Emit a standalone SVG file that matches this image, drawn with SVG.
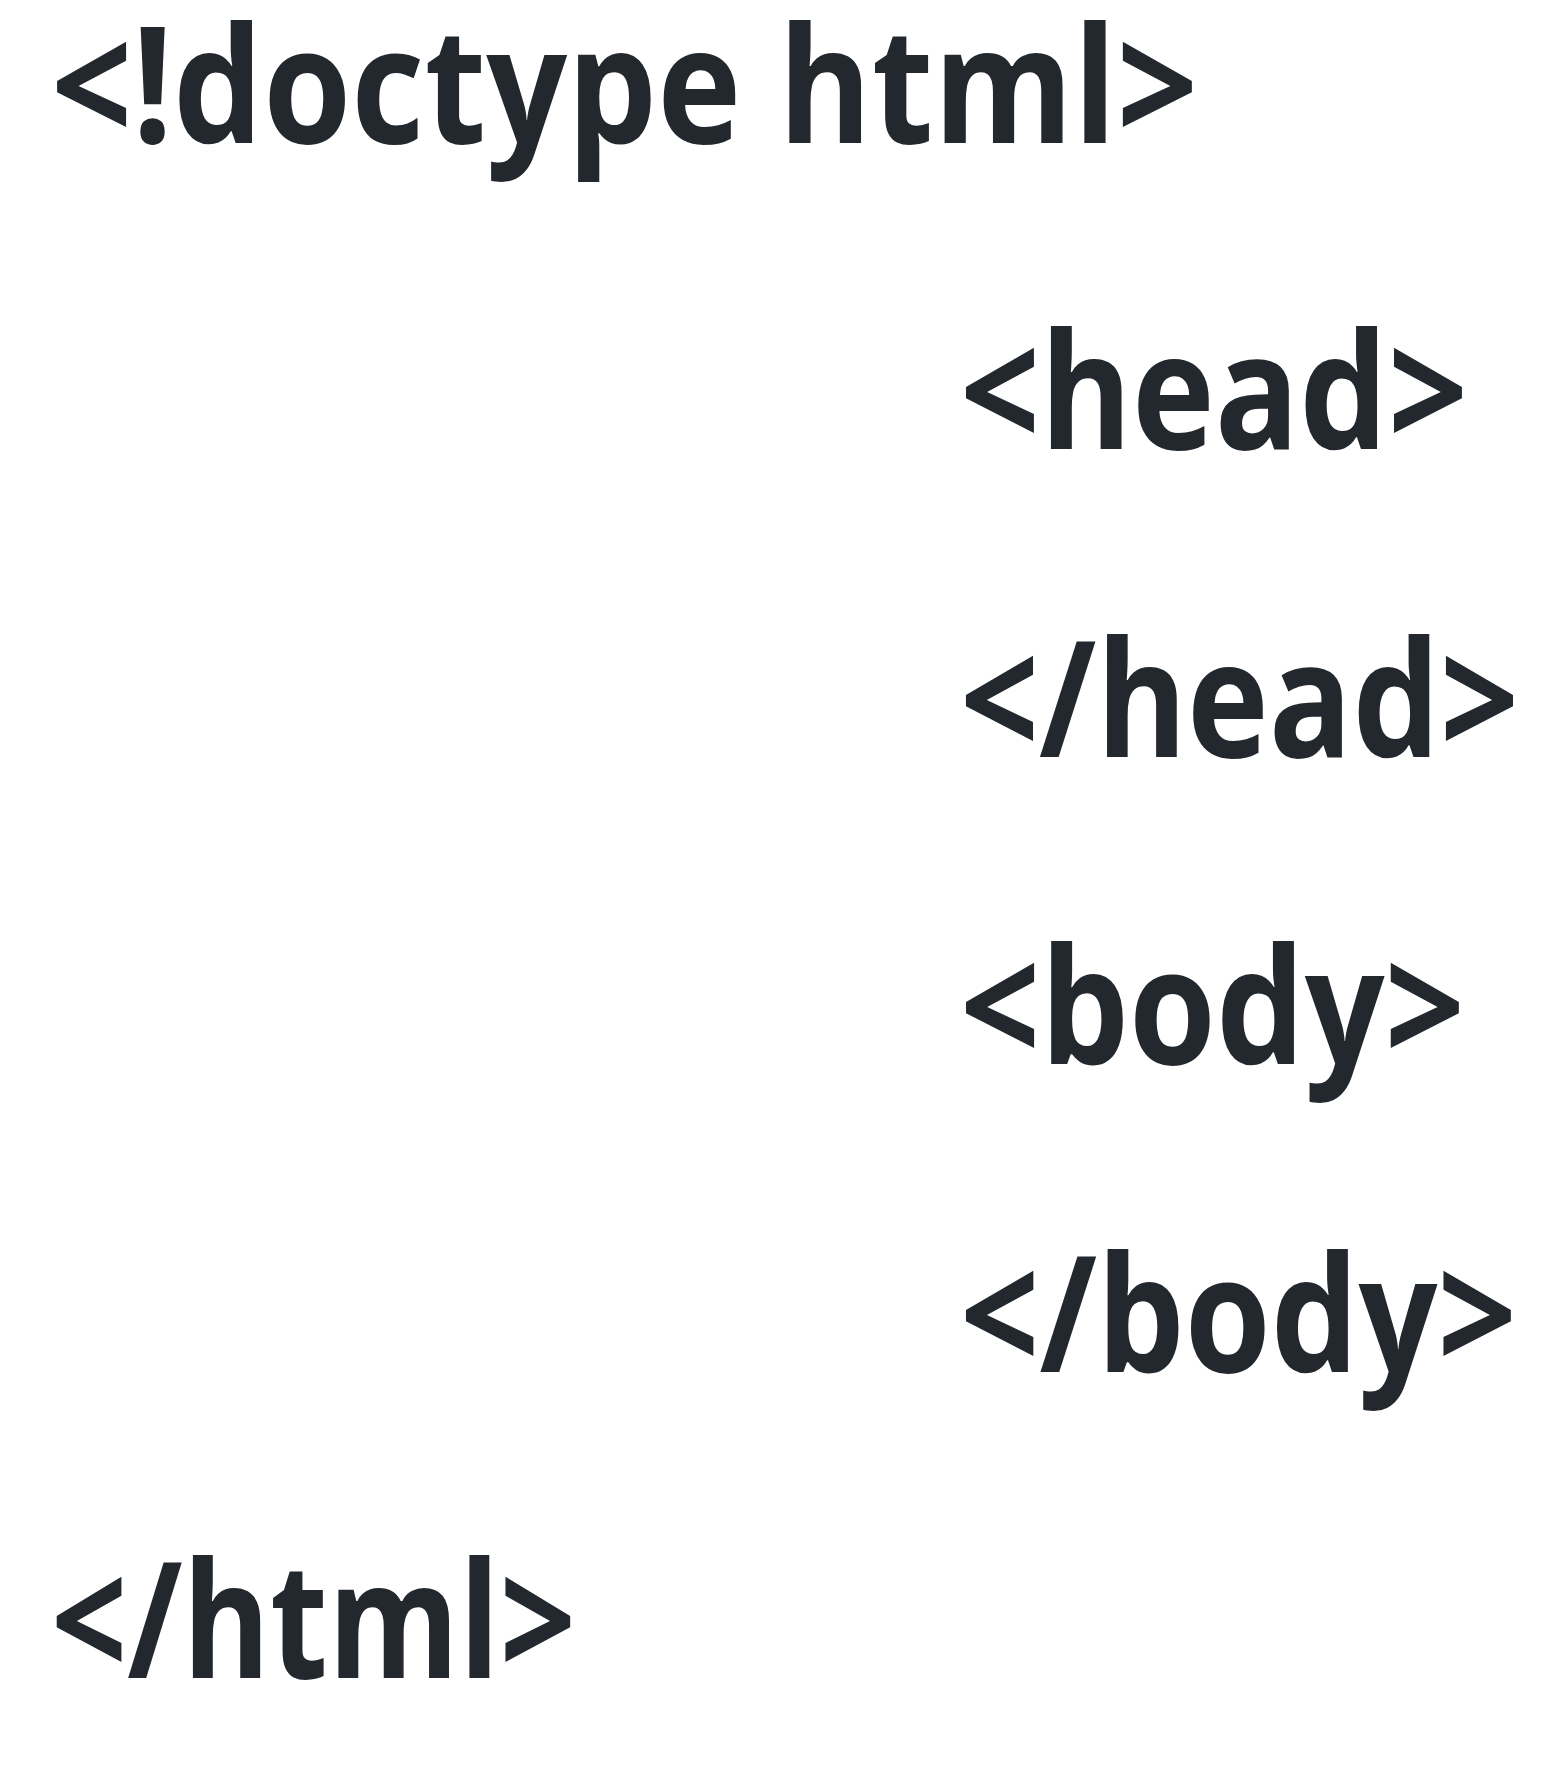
<svg xmlns="http://www.w3.org/2000/svg" width="1548" height="1767" viewBox="0 0 1548 1767">
<style>
.t{font-family:"Open Sans","Noto Sans","DejaVu Sans",sans-serif;font-weight:700;font-size:162px;fill:#23282f}
</style>
<rect x="0" y="0" width="1548" height="1767" fill="#ffffff"/>
<g id="doctype"><text class="t" x="51" y="143" textLength="1147" lengthAdjust="spacingAndGlyphs">&lt;!doctype html&gt;</text></g>
<g id="head-open"><text class="t" x="960" y="449" textLength="508" lengthAdjust="spacingAndGlyphs">&lt;head&gt;</text></g>
<g id="head-close"><text class="t" x="960" y="757" textLength="559" lengthAdjust="spacingAndGlyphs">&lt;/head&gt;</text></g>
<g id="body-open"><text class="t" x="960" y="1064" textLength="505" lengthAdjust="spacingAndGlyphs">&lt;body&gt;</text></g>
<g id="body-close"><text class="t" x="960" y="1372" textLength="557" lengthAdjust="spacingAndGlyphs">&lt;/body&gt;</text></g>
<g id="html-close"><text class="t" x="51" y="1678" textLength="525" lengthAdjust="spacingAndGlyphs">&lt;/html&gt;</text></g>
<g id="connectors"></g>
</svg>
